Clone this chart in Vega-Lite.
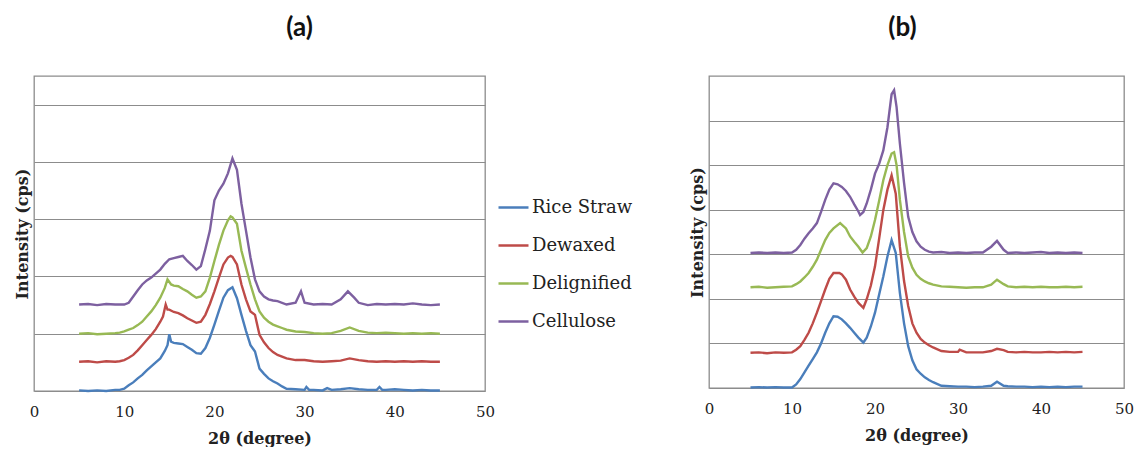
{
  "$schema": "https://vega.github.io/schema/vega-lite/v6.json",
  "padding": {"left": 13, "top": 14, "right": 0, "bottom": 0},
  "background": "white",
  "spacing": 54,
  "config": {
    "view": {"stroke": "#8c8c8c", "strokeWidth": 1.3},
    "title": {"font": "Lato", "fontSize": 26, "fontWeight": "bold", "color": "#111", "offset": 35},
    "axisX": {"labelFont": "DejaVu Serif", "labelFontSize": 15, "labelColor": "#222", "titleFont": "DejaVu Serif", "titleFontSize": 16, "titleFontWeight": "bold", "titleColor": "#222", "domainColor": "#8c8c8c", "ticks": false, "labelPadding": 13, "titlePadding": 11, "grid": false, "labelFlush": false, "labelOverlap": false},
    "axisY": {"labels": false, "ticks": false, "domain": false, "grid": true, "gridColor": "#8c8c8c", "gridWidth": 1.2, "titleFont": "DejaVu Serif", "titleFontSize": 16, "titleFontWeight": "bold", "titleColor": "#222", "titlePadding": 4}
  },
  "datasets": {
    "a": [
      {"s":"Rice Straw","x":5,"y":0.01},{"s":"Rice Straw","x":6,"y":0.0},{"s":"Rice Straw","x":7,"y":0.01},{"s":"Rice Straw","x":8,"y":0.0},{"s":"Rice Straw","x":9,"y":0.02},{"s":"Rice Straw","x":9.5,"y":0.02},{"s":"Rice Straw","x":10,"y":0.04},{"s":"Rice Straw","x":10.5,"y":0.1},{"s":"Rice Straw","x":11,"y":0.15},{"s":"Rice Straw","x":11.5,"y":0.22},{"s":"Rice Straw","x":12,"y":0.28},{"s":"Rice Straw","x":12.5,"y":0.36},{"s":"Rice Straw","x":13,"y":0.43},{"s":"Rice Straw","x":13.5,"y":0.5},{"s":"Rice Straw","x":14,"y":0.57},{"s":"Rice Straw","x":14.5,"y":0.7},{"s":"Rice Straw","x":14.8,"y":0.8},{"s":"Rice Straw","x":15,"y":0.99},{"s":"Rice Straw","x":15.2,"y":0.86},{"s":"Rice Straw","x":15.5,"y":0.84},{"s":"Rice Straw","x":16,"y":0.83},{"s":"Rice Straw","x":16.5,"y":0.82},{"s":"Rice Straw","x":17,"y":0.77},{"s":"Rice Straw","x":17.5,"y":0.72},{"s":"Rice Straw","x":18,"y":0.66},{"s":"Rice Straw","x":18.5,"y":0.65},{"s":"Rice Straw","x":19,"y":0.75},{"s":"Rice Straw","x":19.5,"y":0.93},{"s":"Rice Straw","x":20,"y":1.16},{"s":"Rice Straw","x":20.5,"y":1.4},{"s":"Rice Straw","x":21,"y":1.63},{"s":"Rice Straw","x":21.5,"y":1.76},{"s":"Rice Straw","x":22,"y":1.81},{"s":"Rice Straw","x":22.5,"y":1.62},{"s":"Rice Straw","x":23,"y":1.33},{"s":"Rice Straw","x":23.5,"y":1.05},{"s":"Rice Straw","x":24,"y":0.8},{"s":"Rice Straw","x":24.5,"y":0.69},{"s":"Rice Straw","x":25,"y":0.39},{"s":"Rice Straw","x":25.5,"y":0.3},{"s":"Rice Straw","x":26,"y":0.22},{"s":"Rice Straw","x":26.5,"y":0.17},{"s":"Rice Straw","x":27,"y":0.13},{"s":"Rice Straw","x":27.5,"y":0.08},{"s":"Rice Straw","x":28,"y":0.04},{"s":"Rice Straw","x":29,"y":0.03},{"s":"Rice Straw","x":30,"y":0.02},{"s":"Rice Straw","x":30.2,"y":0.07},{"s":"Rice Straw","x":30.5,"y":0.02},{"s":"Rice Straw","x":31,"y":0.02},{"s":"Rice Straw","x":32,"y":0.01},{"s":"Rice Straw","x":32.5,"y":0.05},{"s":"Rice Straw","x":33,"y":0.02},{"s":"Rice Straw","x":34,"y":0.03},{"s":"Rice Straw","x":35,"y":0.05},{"s":"Rice Straw","x":36,"y":0.03},{"s":"Rice Straw","x":37,"y":0.02},{"s":"Rice Straw","x":38,"y":0.02},{"s":"Rice Straw","x":38.3,"y":0.07},{"s":"Rice Straw","x":38.6,"y":0.02},{"s":"Rice Straw","x":39,"y":0.02},{"s":"Rice Straw","x":40,"y":0.03},{"s":"Rice Straw","x":41,"y":0.02},{"s":"Rice Straw","x":42,"y":0.01},{"s":"Rice Straw","x":43,"y":0.02},{"s":"Rice Straw","x":44,"y":0.01},{"s":"Rice Straw","x":45,"y":0.01},
      {"s":"Dewaxed","x":5,"y":0.51},{"s":"Dewaxed","x":6,"y":0.52},{"s":"Dewaxed","x":7,"y":0.5},{"s":"Dewaxed","x":8,"y":0.52},{"s":"Dewaxed","x":9,"y":0.51},{"s":"Dewaxed","x":9.5,"y":0.52},{"s":"Dewaxed","x":10,"y":0.54},{"s":"Dewaxed","x":10.5,"y":0.58},{"s":"Dewaxed","x":11,"y":0.63},{"s":"Dewaxed","x":11.5,"y":0.71},{"s":"Dewaxed","x":12,"y":0.8},{"s":"Dewaxed","x":12.5,"y":0.89},{"s":"Dewaxed","x":13,"y":0.98},{"s":"Dewaxed","x":13.5,"y":1.08},{"s":"Dewaxed","x":14,"y":1.21},{"s":"Dewaxed","x":14.3,"y":1.3},{"s":"Dewaxed","x":14.6,"y":1.51},{"s":"Dewaxed","x":14.8,"y":1.42},{"s":"Dewaxed","x":15,"y":1.42},{"s":"Dewaxed","x":15.5,"y":1.38},{"s":"Dewaxed","x":16,"y":1.36},{"s":"Dewaxed","x":16.5,"y":1.32},{"s":"Dewaxed","x":17,"y":1.27},{"s":"Dewaxed","x":17.5,"y":1.23},{"s":"Dewaxed","x":18,"y":1.19},{"s":"Dewaxed","x":18.5,"y":1.21},{"s":"Dewaxed","x":19,"y":1.33},{"s":"Dewaxed","x":19.5,"y":1.52},{"s":"Dewaxed","x":20,"y":1.74},{"s":"Dewaxed","x":20.5,"y":1.98},{"s":"Dewaxed","x":21,"y":2.21},{"s":"Dewaxed","x":21.5,"y":2.33},{"s":"Dewaxed","x":21.8,"y":2.36},{"s":"Dewaxed","x":22,"y":2.34},{"s":"Dewaxed","x":22.5,"y":2.21},{"s":"Dewaxed","x":23,"y":1.86},{"s":"Dewaxed","x":23.5,"y":1.6},{"s":"Dewaxed","x":24,"y":1.39},{"s":"Dewaxed","x":24.5,"y":1.33},{"s":"Dewaxed","x":25,"y":0.98},{"s":"Dewaxed","x":25.5,"y":0.85},{"s":"Dewaxed","x":26,"y":0.75},{"s":"Dewaxed","x":26.5,"y":0.68},{"s":"Dewaxed","x":27,"y":0.63},{"s":"Dewaxed","x":27.5,"y":0.6},{"s":"Dewaxed","x":28,"y":0.57},{"s":"Dewaxed","x":29,"y":0.54},{"s":"Dewaxed","x":30,"y":0.54},{"s":"Dewaxed","x":31,"y":0.52},{"s":"Dewaxed","x":32,"y":0.51},{"s":"Dewaxed","x":33,"y":0.52},{"s":"Dewaxed","x":34,"y":0.53},{"s":"Dewaxed","x":35,"y":0.57},{"s":"Dewaxed","x":36,"y":0.54},{"s":"Dewaxed","x":37,"y":0.52},{"s":"Dewaxed","x":38,"y":0.51},{"s":"Dewaxed","x":39,"y":0.52},{"s":"Dewaxed","x":40,"y":0.51},{"s":"Dewaxed","x":41,"y":0.52},{"s":"Dewaxed","x":42,"y":0.51},{"s":"Dewaxed","x":43,"y":0.52},{"s":"Dewaxed","x":44,"y":0.51},{"s":"Dewaxed","x":45,"y":0.51},
      {"s":"Delignified","x":5,"y":1.0},{"s":"Delignified","x":6,"y":1.01},{"s":"Delignified","x":7,"y":0.99},{"s":"Delignified","x":8,"y":1.0},{"s":"Delignified","x":9,"y":1.01},{"s":"Delignified","x":9.5,"y":1.02},{"s":"Delignified","x":10,"y":1.04},{"s":"Delignified","x":10.5,"y":1.07},{"s":"Delignified","x":11,"y":1.1},{"s":"Delignified","x":11.5,"y":1.15},{"s":"Delignified","x":12,"y":1.21},{"s":"Delignified","x":12.5,"y":1.3},{"s":"Delignified","x":13,"y":1.39},{"s":"Delignified","x":13.5,"y":1.5},{"s":"Delignified","x":14,"y":1.63},{"s":"Delignified","x":14.5,"y":1.8},{"s":"Delignified","x":14.8,"y":1.95},{"s":"Delignified","x":15.2,"y":1.86},{"s":"Delignified","x":15.5,"y":1.84},{"s":"Delignified","x":16,"y":1.83},{"s":"Delignified","x":16.5,"y":1.78},{"s":"Delignified","x":17,"y":1.74},{"s":"Delignified","x":17.5,"y":1.68},{"s":"Delignified","x":18,"y":1.63},{"s":"Delignified","x":18.5,"y":1.65},{"s":"Delignified","x":19,"y":1.74},{"s":"Delignified","x":19.5,"y":1.98},{"s":"Delignified","x":20,"y":2.27},{"s":"Delignified","x":20.5,"y":2.55},{"s":"Delignified","x":21,"y":2.8},{"s":"Delignified","x":21.5,"y":2.98},{"s":"Delignified","x":21.8,"y":3.05},{"s":"Delignified","x":22,"y":3.03},{"s":"Delignified","x":22.5,"y":2.92},{"s":"Delignified","x":23,"y":2.45},{"s":"Delignified","x":23.5,"y":2.15},{"s":"Delignified","x":24,"y":1.86},{"s":"Delignified","x":24.5,"y":1.6},{"s":"Delignified","x":25,"y":1.39},{"s":"Delignified","x":25.5,"y":1.28},{"s":"Delignified","x":26,"y":1.21},{"s":"Delignified","x":26.5,"y":1.16},{"s":"Delignified","x":27,"y":1.13},{"s":"Delignified","x":27.5,"y":1.1},{"s":"Delignified","x":28,"y":1.07},{"s":"Delignified","x":29,"y":1.04},{"s":"Delignified","x":30,"y":1.03},{"s":"Delignified","x":31,"y":1.01},{"s":"Delignified","x":32,"y":1.0},{"s":"Delignified","x":33,"y":1.01},{"s":"Delignified","x":34,"y":1.05},{"s":"Delignified","x":35,"y":1.11},{"s":"Delignified","x":36,"y":1.05},{"s":"Delignified","x":37,"y":1.02},{"s":"Delignified","x":38,"y":1.01},{"s":"Delignified","x":39,"y":1.02},{"s":"Delignified","x":40,"y":1.01},{"s":"Delignified","x":41,"y":1.0},{"s":"Delignified","x":42,"y":1.01},{"s":"Delignified","x":43,"y":1.0},{"s":"Delignified","x":44,"y":1.01},{"s":"Delignified","x":45,"y":1.0},
      {"s":"Cellulose","x":5,"y":1.51},{"s":"Cellulose","x":6,"y":1.52},{"s":"Cellulose","x":7,"y":1.5},{"s":"Cellulose","x":8,"y":1.52},{"s":"Cellulose","x":9,"y":1.51},{"s":"Cellulose","x":10,"y":1.51},{"s":"Cellulose","x":10.5,"y":1.54},{"s":"Cellulose","x":11,"y":1.65},{"s":"Cellulose","x":11.5,"y":1.76},{"s":"Cellulose","x":12,"y":1.86},{"s":"Cellulose","x":12.5,"y":1.93},{"s":"Cellulose","x":13,"y":1.98},{"s":"Cellulose","x":13.5,"y":2.05},{"s":"Cellulose","x":14,"y":2.12},{"s":"Cellulose","x":14.5,"y":2.22},{"s":"Cellulose","x":15,"y":2.3},{"s":"Cellulose","x":15.5,"y":2.32},{"s":"Cellulose","x":16,"y":2.34},{"s":"Cellulose","x":16.5,"y":2.36},{"s":"Cellulose","x":17,"y":2.27},{"s":"Cellulose","x":17.5,"y":2.2},{"s":"Cellulose","x":18,"y":2.12},{"s":"Cellulose","x":18.5,"y":2.18},{"s":"Cellulose","x":19,"y":2.48},{"s":"Cellulose","x":19.5,"y":2.8},{"s":"Cellulose","x":20,"y":3.33},{"s":"Cellulose","x":20.5,"y":3.5},{"s":"Cellulose","x":21,"y":3.62},{"s":"Cellulose","x":21.5,"y":3.8},{"s":"Cellulose","x":22,"y":4.06},{"s":"Cellulose","x":22.5,"y":3.86},{"s":"Cellulose","x":23,"y":3.27},{"s":"Cellulose","x":23.5,"y":2.8},{"s":"Cellulose","x":24,"y":2.33},{"s":"Cellulose","x":24.5,"y":1.95},{"s":"Cellulose","x":25,"y":1.74},{"s":"Cellulose","x":25.5,"y":1.65},{"s":"Cellulose","x":26,"y":1.6},{"s":"Cellulose","x":26.5,"y":1.58},{"s":"Cellulose","x":27,"y":1.57},{"s":"Cellulose","x":28,"y":1.51},{"s":"Cellulose","x":29,"y":1.54},{"s":"Cellulose","x":29.6,"y":1.74},{"s":"Cellulose","x":30,"y":1.54},{"s":"Cellulose","x":31,"y":1.51},{"s":"Cellulose","x":32,"y":1.52},{"s":"Cellulose","x":33,"y":1.51},{"s":"Cellulose","x":34,"y":1.6},{"s":"Cellulose","x":34.8,"y":1.74},{"s":"Cellulose","x":35.5,"y":1.63},{"s":"Cellulose","x":36,"y":1.54},{"s":"Cellulose","x":37,"y":1.5},{"s":"Cellulose","x":38,"y":1.52},{"s":"Cellulose","x":39,"y":1.51},{"s":"Cellulose","x":40,"y":1.52},{"s":"Cellulose","x":41,"y":1.51},{"s":"Cellulose","x":42,"y":1.53},{"s":"Cellulose","x":43,"y":1.51},{"s":"Cellulose","x":44,"y":1.5},{"s":"Cellulose","x":45,"y":1.51}
    ],
    "b": [
      {"s":"Rice Straw","x":5,"y":0.01},{"s":"Rice Straw","x":6,"y":0.02},{"s":"Rice Straw","x":7,"y":0.01},{"s":"Rice Straw","x":8,"y":0.02},{"s":"Rice Straw","x":9,"y":0.01},{"s":"Rice Straw","x":10,"y":0.01},{"s":"Rice Straw","x":10.5,"y":0.08},{"s":"Rice Straw","x":11,"y":0.2},{"s":"Rice Straw","x":11.5,"y":0.35},{"s":"Rice Straw","x":12,"y":0.5},{"s":"Rice Straw","x":12.5,"y":0.65},{"s":"Rice Straw","x":13,"y":0.8},{"s":"Rice Straw","x":13.5,"y":1.0},{"s":"Rice Straw","x":14,"y":1.24},{"s":"Rice Straw","x":14.5,"y":1.45},{"s":"Rice Straw","x":15,"y":1.61},{"s":"Rice Straw","x":15.5,"y":1.6},{"s":"Rice Straw","x":16,"y":1.54},{"s":"Rice Straw","x":16.5,"y":1.45},{"s":"Rice Straw","x":17,"y":1.35},{"s":"Rice Straw","x":17.5,"y":1.24},{"s":"Rice Straw","x":18,"y":1.13},{"s":"Rice Straw","x":18.6,"y":1.02},{"s":"Rice Straw","x":19,"y":1.13},{"s":"Rice Straw","x":19.5,"y":1.38},{"s":"Rice Straw","x":20,"y":1.69},{"s":"Rice Straw","x":20.5,"y":2.1},{"s":"Rice Straw","x":21,"y":2.5},{"s":"Rice Straw","x":21.5,"y":2.95},{"s":"Rice Straw","x":22,"y":3.32},{"s":"Rice Straw","x":22.5,"y":3.03},{"s":"Rice Straw","x":23,"y":2.13},{"s":"Rice Straw","x":23.5,"y":1.45},{"s":"Rice Straw","x":24,"y":0.94},{"s":"Rice Straw","x":24.5,"y":0.62},{"s":"Rice Straw","x":25,"y":0.42},{"s":"Rice Straw","x":25.5,"y":0.32},{"s":"Rice Straw","x":26,"y":0.24},{"s":"Rice Straw","x":26.5,"y":0.18},{"s":"Rice Straw","x":27,"y":0.13},{"s":"Rice Straw","x":28,"y":0.05},{"s":"Rice Straw","x":29,"y":0.04},{"s":"Rice Straw","x":30,"y":0.03},{"s":"Rice Straw","x":31,"y":0.03},{"s":"Rice Straw","x":32,"y":0.02},{"s":"Rice Straw","x":33,"y":0.03},{"s":"Rice Straw","x":34,"y":0.05},{"s":"Rice Straw","x":34.7,"y":0.14},{"s":"Rice Straw","x":35.5,"y":0.05},{"s":"Rice Straw","x":36,"y":0.04},{"s":"Rice Straw","x":37,"y":0.03},{"s":"Rice Straw","x":38,"y":0.03},{"s":"Rice Straw","x":39,"y":0.02},{"s":"Rice Straw","x":40,"y":0.03},{"s":"Rice Straw","x":41,"y":0.02},{"s":"Rice Straw","x":42,"y":0.03},{"s":"Rice Straw","x":43,"y":0.02},{"s":"Rice Straw","x":44,"y":0.03},{"s":"Rice Straw","x":45,"y":0.03},
      {"s":"Dewaxed","x":5,"y":0.79},{"s":"Dewaxed","x":6,"y":0.8},{"s":"Dewaxed","x":7,"y":0.78},{"s":"Dewaxed","x":8,"y":0.8},{"s":"Dewaxed","x":9,"y":0.79},{"s":"Dewaxed","x":10,"y":0.8},{"s":"Dewaxed","x":10.5,"y":0.86},{"s":"Dewaxed","x":11,"y":0.94},{"s":"Dewaxed","x":11.5,"y":1.08},{"s":"Dewaxed","x":12,"y":1.24},{"s":"Dewaxed","x":12.5,"y":1.45},{"s":"Dewaxed","x":13,"y":1.69},{"s":"Dewaxed","x":13.5,"y":1.95},{"s":"Dewaxed","x":14,"y":2.21},{"s":"Dewaxed","x":14.5,"y":2.45},{"s":"Dewaxed","x":15,"y":2.58},{"s":"Dewaxed","x":15.7,"y":2.58},{"s":"Dewaxed","x":16,"y":2.55},{"s":"Dewaxed","x":16.5,"y":2.43},{"s":"Dewaxed","x":17,"y":2.21},{"s":"Dewaxed","x":17.5,"y":2.05},{"s":"Dewaxed","x":18,"y":1.91},{"s":"Dewaxed","x":18.6,"y":1.8},{"s":"Dewaxed","x":19,"y":1.99},{"s":"Dewaxed","x":19.5,"y":2.3},{"s":"Dewaxed","x":20,"y":2.73},{"s":"Dewaxed","x":20.5,"y":3.35},{"s":"Dewaxed","x":21,"y":3.99},{"s":"Dewaxed","x":21.5,"y":4.45},{"s":"Dewaxed","x":22,"y":4.77},{"s":"Dewaxed","x":22.5,"y":4.36},{"s":"Dewaxed","x":23,"y":3.17},{"s":"Dewaxed","x":23.5,"y":2.4},{"s":"Dewaxed","x":24,"y":1.84},{"s":"Dewaxed","x":24.5,"y":1.45},{"s":"Dewaxed","x":25,"y":1.24},{"s":"Dewaxed","x":25.5,"y":1.1},{"s":"Dewaxed","x":26,"y":1.02},{"s":"Dewaxed","x":26.5,"y":0.96},{"s":"Dewaxed","x":27,"y":0.91},{"s":"Dewaxed","x":28,"y":0.83},{"s":"Dewaxed","x":29,"y":0.81},{"s":"Dewaxed","x":30,"y":0.81},{"s":"Dewaxed","x":30.2,"y":0.86},{"s":"Dewaxed","x":31,"y":0.8},{"s":"Dewaxed","x":32,"y":0.8},{"s":"Dewaxed","x":33,"y":0.8},{"s":"Dewaxed","x":34,"y":0.83},{"s":"Dewaxed","x":34.7,"y":0.88},{"s":"Dewaxed","x":35.5,"y":0.85},{"s":"Dewaxed","x":36,"y":0.81},{"s":"Dewaxed","x":37,"y":0.8},{"s":"Dewaxed","x":38,"y":0.81},{"s":"Dewaxed","x":39,"y":0.8},{"s":"Dewaxed","x":40,"y":0.8},{"s":"Dewaxed","x":41,"y":0.81},{"s":"Dewaxed","x":42,"y":0.8},{"s":"Dewaxed","x":43,"y":0.81},{"s":"Dewaxed","x":44,"y":0.8},{"s":"Dewaxed","x":45,"y":0.81},
      {"s":"Delignified","x":5,"y":2.26},{"s":"Delignified","x":6,"y":2.27},{"s":"Delignified","x":7,"y":2.25},{"s":"Delignified","x":8,"y":2.26},{"s":"Delignified","x":9,"y":2.27},{"s":"Delignified","x":10,"y":2.28},{"s":"Delignified","x":10.5,"y":2.33},{"s":"Delignified","x":11,"y":2.39},{"s":"Delignified","x":11.5,"y":2.48},{"s":"Delignified","x":12,"y":2.58},{"s":"Delignified","x":12.5,"y":2.72},{"s":"Delignified","x":13,"y":2.88},{"s":"Delignified","x":13.5,"y":3.1},{"s":"Delignified","x":14,"y":3.32},{"s":"Delignified","x":14.5,"y":3.48},{"s":"Delignified","x":15,"y":3.58},{"s":"Delignified","x":15.8,"y":3.7},{"s":"Delignified","x":16.5,"y":3.58},{"s":"Delignified","x":17,"y":3.4},{"s":"Delignified","x":17.5,"y":3.28},{"s":"Delignified","x":18,"y":3.17},{"s":"Delignified","x":18.5,"y":3.04},{"s":"Delignified","x":19,"y":3.14},{"s":"Delignified","x":19.5,"y":3.4},{"s":"Delignified","x":20,"y":3.77},{"s":"Delignified","x":20.5,"y":4.2},{"s":"Delignified","x":21,"y":4.66},{"s":"Delignified","x":21.5,"y":5.0},{"s":"Delignified","x":22,"y":5.26},{"s":"Delignified","x":22.3,"y":5.29},{"s":"Delignified","x":22.6,"y":5.0},{"s":"Delignified","x":23,"y":4.22},{"s":"Delignified","x":23.5,"y":3.5},{"s":"Delignified","x":24,"y":2.95},{"s":"Delignified","x":24.5,"y":2.7},{"s":"Delignified","x":25,"y":2.54},{"s":"Delignified","x":25.5,"y":2.45},{"s":"Delignified","x":26,"y":2.39},{"s":"Delignified","x":26.5,"y":2.35},{"s":"Delignified","x":27,"y":2.32},{"s":"Delignified","x":28,"y":2.28},{"s":"Delignified","x":29,"y":2.27},{"s":"Delignified","x":30,"y":2.26},{"s":"Delignified","x":31,"y":2.25},{"s":"Delignified","x":32,"y":2.26},{"s":"Delignified","x":33,"y":2.26},{"s":"Delignified","x":34,"y":2.32},{"s":"Delignified","x":34.7,"y":2.43},{"s":"Delignified","x":35.5,"y":2.33},{"s":"Delignified","x":36,"y":2.28},{"s":"Delignified","x":37,"y":2.26},{"s":"Delignified","x":38,"y":2.27},{"s":"Delignified","x":39,"y":2.26},{"s":"Delignified","x":40,"y":2.27},{"s":"Delignified","x":41,"y":2.26},{"s":"Delignified","x":42,"y":2.26},{"s":"Delignified","x":43,"y":2.27},{"s":"Delignified","x":44,"y":2.26},{"s":"Delignified","x":45,"y":2.27},
      {"s":"Cellulose","x":5,"y":3.03},{"s":"Cellulose","x":6,"y":3.04},{"s":"Cellulose","x":7,"y":3.03},{"s":"Cellulose","x":8,"y":3.04},{"s":"Cellulose","x":9,"y":3.03},{"s":"Cellulose","x":10,"y":3.04},{"s":"Cellulose","x":10.5,"y":3.1},{"s":"Cellulose","x":11,"y":3.21},{"s":"Cellulose","x":11.5,"y":3.35},{"s":"Cellulose","x":12,"y":3.47},{"s":"Cellulose","x":12.5,"y":3.58},{"s":"Cellulose","x":13,"y":3.7},{"s":"Cellulose","x":13.5,"y":3.95},{"s":"Cellulose","x":14,"y":4.22},{"s":"Cellulose","x":14.5,"y":4.45},{"s":"Cellulose","x":15,"y":4.59},{"s":"Cellulose","x":15.5,"y":4.57},{"s":"Cellulose","x":16,"y":4.51},{"s":"Cellulose","x":16.5,"y":4.42},{"s":"Cellulose","x":17,"y":4.29},{"s":"Cellulose","x":17.5,"y":4.12},{"s":"Cellulose","x":18,"y":3.96},{"s":"Cellulose","x":18.2,"y":3.88},{"s":"Cellulose","x":18.6,"y":3.95},{"s":"Cellulose","x":19,"y":4.14},{"s":"Cellulose","x":19.5,"y":4.45},{"s":"Cellulose","x":20,"y":4.81},{"s":"Cellulose","x":20.5,"y":5.03},{"s":"Cellulose","x":21,"y":5.33},{"s":"Cellulose","x":21.5,"y":5.85},{"s":"Cellulose","x":22,"y":6.59},{"s":"Cellulose","x":22.3,"y":6.68},{"s":"Cellulose","x":22.6,"y":6.3},{"s":"Cellulose","x":23,"y":5.48},{"s":"Cellulose","x":23.5,"y":4.6},{"s":"Cellulose","x":24,"y":3.84},{"s":"Cellulose","x":24.5,"y":3.5},{"s":"Cellulose","x":25,"y":3.29},{"s":"Cellulose","x":25.5,"y":3.17},{"s":"Cellulose","x":26,"y":3.1},{"s":"Cellulose","x":26.5,"y":3.06},{"s":"Cellulose","x":27,"y":3.04},{"s":"Cellulose","x":28,"y":3.05},{"s":"Cellulose","x":29,"y":3.03},{"s":"Cellulose","x":30,"y":3.04},{"s":"Cellulose","x":31,"y":3.03},{"s":"Cellulose","x":32,"y":3.04},{"s":"Cellulose","x":33,"y":3.04},{"s":"Cellulose","x":34,"y":3.17},{"s":"Cellulose","x":34.7,"y":3.3},{"s":"Cellulose","x":35.5,"y":3.1},{"s":"Cellulose","x":36,"y":3.03},{"s":"Cellulose","x":37,"y":3.04},{"s":"Cellulose","x":38,"y":3.03},{"s":"Cellulose","x":39,"y":3.04},{"s":"Cellulose","x":40,"y":3.05},{"s":"Cellulose","x":41,"y":3.03},{"s":"Cellulose","x":42,"y":3.04},{"s":"Cellulose","x":43,"y":3.03},{"s":"Cellulose","x":44,"y":3.04},{"s":"Cellulose","x":45,"y":3.03}
    ]
  },
  "resolve": {"scale": {"color": "independent", "y": "independent", "x": "independent"}, "legend": {"color": "independent"}},
  "hconcat": [
    {
      "title": {"text": "(a)", "dx": 40},
      "width": 451,
      "height": 315,
      "data": {"name": "a"},
      "mark": {"type": "line", "strokeWidth": 2.4},
      "encoding": {
        "x": {"field": "x", "type": "quantitative", "title": "2θ (degree)", "scale": {"domain": [0, 50], "nice": false, "zero": false}, "axis": {"values": [0, 10, 20, 30, 40, 50]}},
        "y": {"field": "y", "type": "quantitative", "title": "Intensity (cps)", "scale": {"domain": [0, 5.5], "nice": false}, "axis": {"values": [1, 2, 3, 4, 5]}},
        "color": {"field": "s", "type": "nominal", "scale": {"domain": ["Rice Straw", "Dewaxed", "Delignified", "Cellulose"], "range": ["#4a7ebb", "#be4b48", "#98b954", "#7d60a0"]},
          "legend": {"title": null, "orient": "none", "legendX": 463, "legendY": 115, "symbolType": "stroke", "symbolSize": 900, "symbolStrokeWidth": 2.5, "labelFont": "DejaVu Serif", "labelFontSize": 18, "labelColor": "#222", "rowPadding": 12, "labelOffset": 2}}
      }
    },
    {
      "title": {"text": "(b)", "dx": -14},
      "width": 415,
      "height": 312,
      "data": {"name": "b"},
      "mark": {"type": "line", "strokeWidth": 2.4},
      "encoding": {
        "x": {"field": "x", "type": "quantitative", "title": "2θ (degree)", "scale": {"domain": [0, 50], "nice": false, "zero": false}, "axis": {"values": [0, 10, 20, 30, 40, 50]}},
        "y": {"field": "y", "type": "quantitative", "title": "Intensity (cps)", "scale": {"domain": [0, 7], "nice": false}, "axis": {"values": [1, 2, 3, 4, 5, 6]}},
        "color": {"field": "s", "type": "nominal", "scale": {"domain": ["Rice Straw", "Dewaxed", "Delignified", "Cellulose"], "range": ["#4a7ebb", "#be4b48", "#98b954", "#7d60a0"]}, "legend": null}
      }
    }
  ]
}
